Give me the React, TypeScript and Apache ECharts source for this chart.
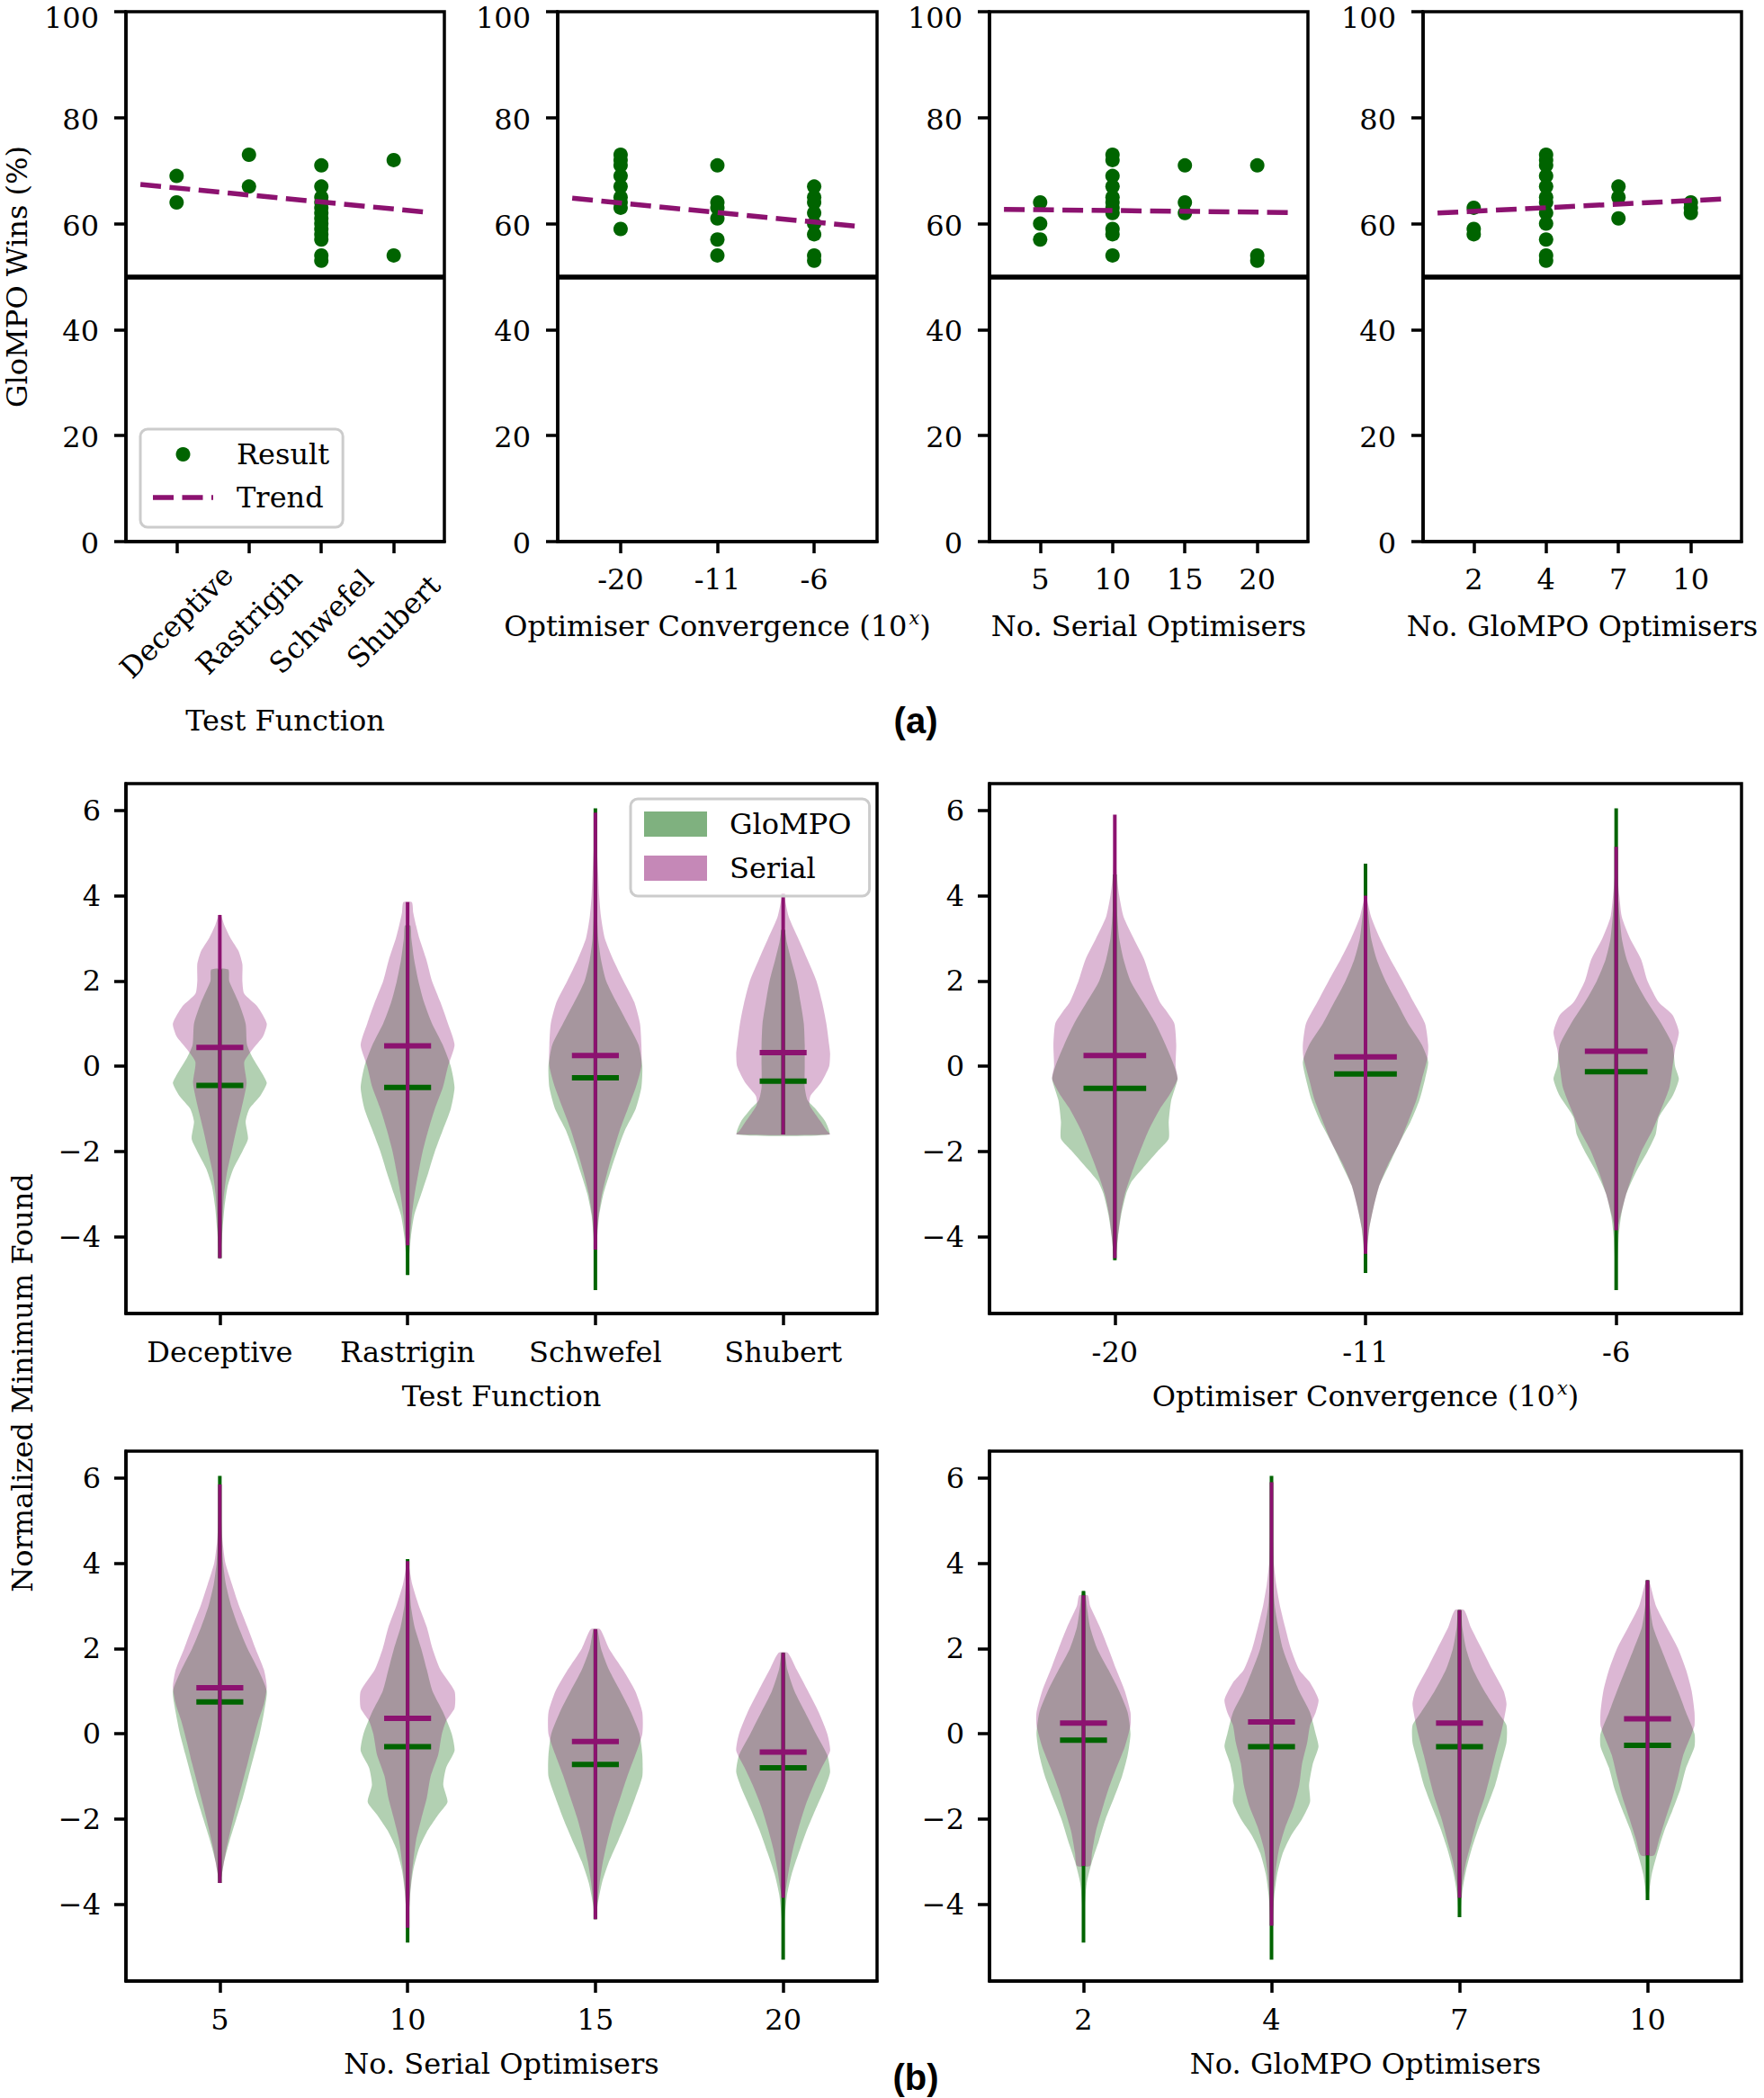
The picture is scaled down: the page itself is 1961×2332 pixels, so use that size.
import React, { useEffect, useRef } from "react";
import * as echarts from "echarts";

const GREEN = "#006400";
const PURPLE = "#8c1270";
const GREEN_BODY = "rgba(0,100,0,0.3)";
const PURPLE_BODY = "rgba(140,18,112,0.3)";
const GREEN_PATCH = "rgba(0,100,0,0.5)";
const PURPLE_PATCH = "rgba(140,18,112,0.5)";
const SERIF = "DejaVu Serif";

// ---------------- (a) GloMPO wins (%) ----------------
const fnCats = ["Deceptive", "Rastrigin", "Schwefel", "Shubert"];
const fnWins = [[69, 64], [73, 67], [71, 67, 65, 64, 63, 62, 61, 60, 59, 58, 57, 54, 53], [72, 54]];
const fnTrend = [67.4, 62.1];

const convCats = ["-20", "-11", "-6"];
const convWins = [[73, 72, 71, 69, 67, 65, 64, 63, 59], [71, 64, 63, 61, 57, 54], [67, 65, 64, 62, 60, 58, 54, 53]];
const convTrend = [64.8, 59.4];

const serialCats = ["5", "10", "15", "20"];
const serialWins = [[64, 60, 57], [73, 72, 69, 67, 65, 64, 63, 62, 59, 58, 54], [71, 64, 62], [71, 54, 53]];
const serialTrend = [62.7, 62.1];

const glompoCats = ["2", "4", "7", "10"];
const glompoWins = [[63, 59, 58], [73, 72, 71, 69, 67, 65, 64, 62, 60, 57, 54, 53], [67, 65, 61], [64, 63, 62]];
const glompoTrend = [62.0, 64.7];

const winTicks = [0, 20, 40, 60, 80, 100];
const evenLine = 50;

// ---------------- (b) violin profiles: [value, relative half-width] ----------------
const violinTicks = [-4, -2, 0, 2, 4, 6];

const fnGlo = [
  [[-4.5, 0.01], [-3.8, 0.06], [-3.3, 0.1], [-2.8, 0.17], [-2.4, 0.29], [-2.0, 0.48], [-1.7, 0.6], [-1.3, 0.55], [-1.0, 0.63], [-0.7, 0.86], [-0.4, 1.0], [-0.2, 0.92], [0.2, 0.7], [0.5, 0.58], [1.0, 0.55], [1.5, 0.4], [2.0, 0.2], [2.27, 0.18]],
  [[-4.9, 0.01], [-4.5, 0.03], [-4.0, 0.07], [-3.5, 0.14], [-3.0, 0.29], [-2.5, 0.44], [-2.0, 0.58], [-1.5, 0.75], [-1.0, 0.92], [-0.5, 1.0], [0, 0.92], [0.5, 0.75], [1.0, 0.52], [1.5, 0.35], [2.0, 0.23], [2.5, 0.14], [3.0, 0.08], [3.3, 0.06]],
  [[-5.25, 0.0], [-4.5, 0.02], [-4.0, 0.04], [-3.5, 0.08], [-3.0, 0.17], [-2.5, 0.31], [-2.0, 0.46], [-1.5, 0.63], [-1.0, 0.86], [-0.5, 0.98], [0, 1.0], [0.5, 0.92], [1.0, 0.69], [1.5, 0.45], [2.0, 0.23], [2.5, 0.12], [3.0, 0.06], [4.0, 0.02], [5.0, 0.01], [6.05, 0.0]],
  [[-1.6, 0.98], [-1.3, 0.9], [-1.0, 0.69], [-0.8, 0.52], [-0.5, 0.46], [0, 0.46], [0.5, 0.46], [1.0, 0.44], [1.5, 0.37], [2.0, 0.29], [2.5, 0.17], [2.9, 0.08], [3.2, 0.03]],
];
const fnSer = [
  [[-4.5, 0.01], [-4.0, 0.04], [-3.5, 0.06], [-3.0, 0.09], [-2.5, 0.15], [-2.0, 0.25], [-1.5, 0.35], [-1.0, 0.46], [-0.4, 0.57], [0.1, 0.52], [0.4, 0.7], [0.7, 0.92], [1.0, 1.0], [1.4, 0.8], [1.7, 0.52], [2.0, 0.48], [2.4, 0.48], [2.7, 0.4], [3.0, 0.23], [3.3, 0.1], [3.55, 0.02]],
  [[-4.2, 0.01], [-4.0, 0.05], [-3.5, 0.09], [-3.0, 0.15], [-2.5, 0.23], [-2.0, 0.32], [-1.5, 0.44], [-1.0, 0.58], [-0.5, 0.75], [0, 0.86], [0.5, 1.0], [1.0, 0.86], [1.5, 0.7], [2.0, 0.52], [2.5, 0.4], [3.0, 0.25], [3.3, 0.18], [3.6, 0.12], [3.85, 0.09]],
  [[-4.3, 0.01], [-4.0, 0.03], [-3.5, 0.07], [-3.0, 0.14], [-2.5, 0.25], [-2.0, 0.38], [-1.5, 0.52], [-1.0, 0.69], [-0.5, 0.86], [0, 0.98], [0.5, 0.98], [1.0, 0.95], [1.5, 0.83], [2.0, 0.6], [2.5, 0.38], [3.0, 0.2], [3.5, 0.12], [4.0, 0.08], [4.5, 0.06], [5.2, 0.03], [5.95, 0.01]],
  [[-1.6, 1.0], [-1.5, 0.92], [-1.3, 0.8], [-1.1, 0.67], [-0.9, 0.56], [-0.7, 0.58], [-0.4, 0.8], [0, 0.98], [0.3, 1.0], [0.5, 0.98], [1.0, 0.92], [1.5, 0.83], [2.0, 0.71], [2.5, 0.52], [3.0, 0.32], [3.5, 0.12], [4.05, 0.01]],
];
const fnGloMed = [-0.45, -0.5, -0.27, -0.35];
const fnSerMed = [0.44, 0.48, 0.25, 0.32];

const convGlo = [
  [[-4.55, 0.01], [-4.0, 0.05], [-3.5, 0.1], [-3.0, 0.18], [-2.7, 0.27], [-2.3, 0.5], [-2.0, 0.68], [-1.7, 0.86], [-1.3, 0.86], [-0.8, 0.9], [-0.3, 1.0], [0, 0.95], [0.5, 0.81], [1.0, 0.65], [1.5, 0.45], [2.0, 0.25], [2.5, 0.14], [3.0, 0.07], [3.5, 0.04], [4.0, 0.02], [4.5, 0.01]],
  [[-4.85, 0.0], [-4.3, 0.03], [-3.8, 0.06], [-3.3, 0.13], [-2.8, 0.22], [-2.3, 0.38], [-1.8, 0.54], [-1.3, 0.72], [-0.8, 0.86], [-0.3, 0.95], [0.1, 1.0], [0.5, 0.9], [1.0, 0.68], [1.5, 0.5], [2.0, 0.32], [2.5, 0.18], [3.0, 0.09], [3.5, 0.05], [4.0, 0.02], [4.75, 0.0]],
  [[-5.25, 0.0], [-4.0, 0.04], [-3.5, 0.08], [-3.0, 0.16], [-2.5, 0.31], [-2.0, 0.5], [-1.6, 0.63], [-1.2, 0.68], [-0.7, 0.9], [-0.3, 1.0], [0, 0.94], [0.5, 0.9], [1.0, 0.72], [1.5, 0.5], [2.0, 0.31], [2.5, 0.17], [3.0, 0.09], [4.0, 0.03], [5.0, 0.01], [6.05, 0.0]],
];
const convSer = [
  [[-4.5, 0.01], [-4.0, 0.05], [-3.5, 0.09], [-3.0, 0.16], [-2.5, 0.27], [-2.0, 0.4], [-1.5, 0.54], [-1.0, 0.72], [-0.7, 0.86], [-0.3, 1.0], [0, 0.97], [0.5, 0.98], [1.0, 0.95], [1.3, 0.82], [1.5, 0.72], [2.0, 0.58], [2.5, 0.47], [3.0, 0.3], [3.5, 0.14], [4.0, 0.07], [4.5, 0.03], [5.2, 0.01], [5.9, 0.0]],
  [[-4.4, 0.01], [-3.8, 0.06], [-3.3, 0.13], [-2.8, 0.22], [-2.3, 0.36], [-1.8, 0.54], [-1.3, 0.68], [-0.8, 0.81], [-0.3, 0.9], [0.2, 0.99], [0.5, 1.0], [1.0, 0.95], [1.5, 0.77], [2.0, 0.59], [2.5, 0.4], [3.0, 0.23], [3.5, 0.09], [4.0, 0.01]],
  [[-3.85, 0.01], [-3.5, 0.07], [-3.0, 0.16], [-2.5, 0.27], [-2.0, 0.4], [-1.5, 0.58], [-1.0, 0.72], [-0.5, 0.85], [0, 0.9], [0.4, 0.94], [0.8, 1.0], [1.2, 0.9], [1.5, 0.68], [2.0, 0.5], [2.5, 0.4], [3.0, 0.22], [3.5, 0.09], [4.0, 0.05], [4.5, 0.02], [5.15, 0.0]],
];
const convGloMed = [-0.52, -0.18, -0.13];
const convSerMed = [0.25, 0.22, 0.35];

const serialGlo = [
  [[-3.5, 0.01], [-3.0, 0.09], [-2.5, 0.21], [-2.0, 0.35], [-1.5, 0.49], [-1.0, 0.61], [-0.5, 0.73], [0, 0.85], [0.5, 0.94], [1.0, 1.0], [1.5, 0.82], [2.0, 0.59], [2.5, 0.4], [3.0, 0.24], [3.5, 0.13], [4.0, 0.07], [5.0, 0.02], [6.05, 0.0]],
  [[-4.9, 0.0], [-4.2, 0.03], [-3.7, 0.06], [-3.2, 0.12], [-2.7, 0.24], [-2.3, 0.41], [-1.9, 0.65], [-1.6, 0.85], [-1.2, 0.76], [-0.8, 0.82], [-0.4, 1.0], [0, 0.94], [0.5, 0.76], [1.0, 0.53], [1.5, 0.41], [2.0, 0.29], [2.5, 0.15], [3.0, 0.07], [3.5, 0.04], [4.1, 0.0]],
  [[-4.35, 0.01], [-4.0, 0.05], [-3.5, 0.14], [-3.0, 0.29], [-2.5, 0.49], [-2.0, 0.68], [-1.5, 0.85], [-1.0, 1.0], [-0.5, 1.0], [0, 0.94], [0.5, 0.76], [1.0, 0.53], [1.5, 0.29], [2.0, 0.12], [2.45, 0.04]],
  [[-5.3, 0.0], [-4.5, 0.02], [-3.8, 0.08], [-3.3, 0.18], [-2.8, 0.33], [-2.3, 0.49], [-1.8, 0.68], [-1.3, 0.88], [-0.9, 1.0], [-0.5, 0.94], [0, 0.7], [0.5, 0.47], [1.0, 0.24], [1.5, 0.09], [1.9, 0.03]],
];
const serialSer = [
  [[-3.5, 0.01], [-3.2, 0.06], [-2.7, 0.14], [-2.2, 0.24], [-1.7, 0.35], [-1.2, 0.47], [-0.7, 0.59], [-0.2, 0.7], [0.3, 0.82], [0.7, 0.94], [1.1, 1.0], [1.5, 0.94], [2.0, 0.76], [2.5, 0.59], [3.0, 0.41], [3.5, 0.26], [4.0, 0.12], [4.5, 0.06], [5.0, 0.03], [5.85, 0.0]],
  [[-4.55, 0.01], [-4.0, 0.04], [-3.5, 0.07], [-3.0, 0.12], [-2.5, 0.18], [-2.0, 0.29], [-1.5, 0.41], [-1.0, 0.49], [-0.5, 0.65], [0, 0.73], [0.3, 0.82], [0.6, 1.0], [1.0, 1.0], [1.5, 0.7], [2.0, 0.53], [2.5, 0.41], [3.0, 0.24], [3.5, 0.1], [4.05, 0.01]],
  [[-4.35, 0.01], [-4.0, 0.04], [-3.5, 0.09], [-3.0, 0.16], [-2.5, 0.26], [-2.0, 0.38], [-1.5, 0.53], [-1.0, 0.68], [-0.5, 0.85], [0, 1.0], [0.5, 1.0], [1.0, 0.85], [1.5, 0.59], [2.0, 0.29], [2.45, 0.1]],
  [[-3.85, 0.01], [-3.7, 0.05], [-3.2, 0.12], [-2.7, 0.21], [-2.2, 0.33], [-1.7, 0.47], [-1.2, 0.65], [-0.8, 0.82], [-0.4, 1.0], [0, 0.94], [0.5, 0.76], [1.0, 0.53], [1.5, 0.29], [1.9, 0.1]],
];
const serialGloMed = [0.75, -0.3, -0.72, -0.8];
const serialSerMed = [1.08, 0.36, -0.18, -0.43];

const glompoGlo = [
  [[-4.9, 0.0], [-4.0, 0.03], [-3.5, 0.07], [-3.0, 0.18], [-2.5, 0.33], [-2.0, 0.47], [-1.5, 0.65], [-1.0, 0.82], [-0.5, 0.94], [0, 1.0], [0.5, 0.94], [1.0, 0.76], [1.5, 0.53], [2.0, 0.29], [2.5, 0.14], [3.0, 0.07], [3.35, 0.03]],
  [[-5.3, 0.0], [-4.5, 0.02], [-3.8, 0.06], [-3.3, 0.12], [-2.8, 0.24], [-2.4, 0.41], [-2.0, 0.65], [-1.6, 0.82], [-1.2, 0.8], [-0.7, 0.88], [-0.3, 1.0], [0, 0.94], [0.5, 0.82], [1.0, 0.59], [2.0, 0.24], [3.0, 0.07], [4.0, 0.02], [6.05, 0.0]],
  [[-4.3, 0.01], [-3.7, 0.06], [-3.2, 0.14], [-2.7, 0.26], [-2.2, 0.41], [-1.7, 0.59], [-1.2, 0.76], [-0.7, 0.88], [-0.2, 1.0], [0.2, 1.0], [0.5, 0.82], [1.0, 0.53], [1.5, 0.29], [2.0, 0.14], [2.5, 0.06], [2.9, 0.03]],
  [[-3.9, 0.01], [-3.3, 0.09], [-2.8, 0.21], [-2.3, 0.35], [-1.8, 0.53], [-1.3, 0.7], [-0.8, 0.82], [-0.3, 1.0], [0, 1.0], [0.5, 0.82], [1.0, 0.65], [2.0, 0.29], [2.5, 0.12], [3.0, 0.05], [3.6, 0.02]],
];
const glompoSer = [
  [[-3.1, 0.14], [-2.8, 0.18], [-2.3, 0.26], [-1.8, 0.39], [-1.3, 0.53], [-0.8, 0.7], [-0.3, 0.88], [0.2, 1.0], [0.5, 1.0], [1.0, 0.88], [1.5, 0.7], [2.0, 0.53], [2.5, 0.35], [3.0, 0.14], [3.25, 0.09]],
  [[-4.5, 0.01], [-3.7, 0.05], [-3.2, 0.09], [-2.7, 0.16], [-2.2, 0.29], [-1.7, 0.47], [-1.2, 0.59], [-0.7, 0.65], [-0.2, 0.76], [0.2, 0.82], [0.5, 0.94], [0.8, 1.0], [1.2, 0.82], [1.5, 0.59], [2.0, 0.41], [2.5, 0.29], [3.0, 0.18], [3.5, 0.1], [4.0, 0.05], [4.5, 0.03], [5.9, 0.0]],
  [[-3.85, 0.01], [-3.5, 0.06], [-3.0, 0.14], [-2.5, 0.26], [-2.0, 0.38], [-1.5, 0.53], [-1.0, 0.65], [-0.5, 0.76], [0, 0.88], [0.3, 0.94], [0.7, 1.0], [1.0, 0.94], [1.5, 0.7], [2.0, 0.47], [2.5, 0.24], [2.9, 0.1]],
  [[-2.85, 0.14], [-2.5, 0.24], [-2.0, 0.38], [-1.5, 0.53], [-1.0, 0.65], [-0.5, 0.76], [0, 0.94], [0.2, 1.0], [0.5, 1.0], [1.0, 0.94], [1.5, 0.82], [2.0, 0.65], [2.5, 0.41], [3.0, 0.18], [3.6, 0.03]],
];
const glompoGloMed = [-0.15, -0.3, -0.3, -0.27];
const glompoSerMed = [0.25, 0.28, 0.25, 0.35];

const CONV_TITLE = "Optimiser Convergence (10{sup|x})";

const topPanels = [
  { cats: fnCats, wins: fnWins, trend: fnTrend, title: "Test Function", left: 140, width: 354, nameGap: 199, rotate: true },
  { cats: convCats, wins: convWins, trend: convTrend, title: CONV_TITLE, left: 620, width: 355, nameGap: 94, rotate: false },
  { cats: serialCats, wins: serialWins, trend: serialTrend, title: "No. Serial Optimisers", left: 1100, width: 354, nameGap: 94, rotate: false },
  { cats: glompoCats, wins: glompoWins, trend: glompoTrend, title: "No. GloMPO Optimisers", left: 1582, width: 354, nameGap: 94, rotate: false },
];

const bottomPanels = [
  { cats: fnCats, glo: fnGlo, ser: fnSer, gloMed: fnGloMed, serMed: fnSerMed, title: "Test Function", left: 140, top: 871, width: 835 },
  { cats: convCats, glo: convGlo, ser: convSer, gloMed: convGloMed, serMed: convSerMed, title: CONV_TITLE, left: 1100, top: 871, width: 836 },
  { cats: serialCats, glo: serialGlo, ser: serialSer, gloMed: serialGloMed, serMed: serialSerMed, title: "No. Serial Optimisers", left: 140, top: 1613, width: 835 },
  { cats: glompoCats, glo: glompoGlo, ser: glompoSer, gloMed: glompoGloMed, serMed: glompoSerMed, title: "No. GloMPO Optimisers", left: 1100, top: 1613, width: 836 },
];

const axisLineStyle = { color: "#000", width: 3.5 };
const labelBase = { color: "#000", fontFamily: SERIF, fontSize: 32 };
const nameStyle = {
  color: "#000",
  fontFamily: SERIF,
  fontSize: 32,
  verticalAlign: "middle",
  lineHeight: 40,
  rich: {
    sup: { color: "#000", fontFamily: SERIF, fontSize: 21, fontStyle: "italic", verticalAlign: "top", lineHeight: 22, padding: [0, 0, 0, 2] },
  },
};
const yNameStyle = { color: "#000", fontFamily: SERIF, fontSize: 32, verticalAlign: "middle", lineHeight: 30 };

// layer: 0 for GloMPO, 1 for Serial -> bodies below all lines, Serial above GloMPO
function violinSeries(name: string, gi: number, profiles: number[][][], medians: number[], lineColor: string, bodyColor: string, layer: number) {
  return {
    type: "custom",
    name,
    xAxisIndex: gi,
    yAxisIndex: gi,
    z: 2,
    data: medians.map((m, i) => [i, m]),
    itemStyle: { color: bodyColor },
    renderItem: (params: any, api: any) => {
      const i = api.value(0);
      const med = api.value(1);
      const prof = profiles[i];
      const band = api.size([1, 0])[0];
      const half = band * 0.25;
      const right = prof.map(([y, w]) => {
        const p = api.coord([i, y]);
        return [p[0] + w * half, p[1]];
      });
      const left = prof
        .slice()
        .reverse()
        .map(([y, w]) => {
          const p = api.coord([i, y]);
          return [p[0] - w * half, p[1]];
        });
      const top = api.coord([i, prof[prof.length - 1][0]]);
      const bot = api.coord([i, prof[0][0]]);
      const mp = api.coord([i, med]);
      const barHalf = band * 0.125;
      return {
        type: "group",
        children: [
          {
            type: "polygon",
            z2: layer,
            shape: { points: right.concat(left), smooth: 0.2 },
            style: { fill: bodyColor, stroke: "none" },
          },
          {
            type: "line",
            z2: 10 + layer,
            shape: { x1: top[0], y1: top[1], x2: bot[0], y2: bot[1] },
            style: { stroke: lineColor, lineWidth: 4 },
          },
          {
            type: "line",
            z2: 10 + layer,
            shape: { x1: mp[0] - barHalf, y1: mp[1], x2: mp[0] + barHalf, y2: mp[1] },
            style: { stroke: lineColor, lineWidth: 6 },
          },
        ],
      };
    },
  };
}

function buildOption() {
  const grid: any[] = [];
  const xAxis: any[] = [];
  const yAxis: any[] = [];
  const series: any[] = [];

  topPanels.forEach((p, i) => {
    grid.push({
      left: p.left,
      top: 13,
      width: p.width,
      height: 589,
      show: true,
      borderColor: "#000",
      borderWidth: 3.5,
      backgroundColor: "transparent",
      containLabel: false,
      outerBoundsMode: "none",
    });
    const n = p.cats.length;
    const pad = 0.05 * n;
    const ticks = p.cats.map((_, k) => k);
    xAxis.push({
      type: "value",
      gridIndex: i,
      min: -0.5 - pad,
      max: n - 0.5 + pad,
      axisLine: { show: true, onZero: false, lineStyle: axisLineStyle },
      axisTick: { show: true, length: 13, lineStyle: axisLineStyle, customValues: ticks },
      axisLabel: p.rotate
        ? { ...labelBase, customValues: ticks, formatter: (v: number) => p.cats[Math.round(v)] ?? "", rotate: 45, align: "center", verticalAlign: "middle", margin: 89 }
        : { ...labelBase, customValues: ticks, formatter: (v: number) => p.cats[Math.round(v)] ?? "", verticalAlign: "middle", margin: 42 },
      splitLine: { show: false },
      name: p.title,
      nameLocation: "middle",
      nameGap: p.nameGap,
      nameTextStyle: nameStyle,
    });
    const maxWin = winTicks[winTicks.length - 1];
    yAxis.push({
      type: "value",
      gridIndex: i,
      min: winTicks[0],
      max: maxWin,
      interval: 20,
      axisLine: { show: true, onZero: false, lineStyle: axisLineStyle },
      axisTick: { show: true, length: 13, lineStyle: axisLineStyle },
      axisLabel: {
        ...labelBase,
        margin: 30,
        formatter: (v: number) => (v === maxWin ? "{edge|" + v + "}" : "{n|" + v + "}"),
        rich: {
          edge: { color: "#000", fontFamily: SERIF, fontSize: 32, lineHeight: 26, padding: [14, 0, 0, 0] },
          n: { color: "#000", fontFamily: SERIF, fontSize: 32, lineHeight: 26, padding: [4, 0, 0, 0] },
        },
      },
      splitLine: { show: false },
      name: i === 0 ? "GloMPO Wins (%)" : "",
      nameLocation: "middle",
      nameGap: 121,
      nameTextStyle: yNameStyle,
    });
    series.push({
      type: "scatter",
      name: "Result",
      xAxisIndex: i,
      yAxisIndex: i,
      symbol: "circle",
      symbolSize: 16,
      itemStyle: { color: GREEN, opacity: 1 },
      data: p.wins.flatMap((vals, k) => vals.map((v) => [k, v])),
      z: 2,
      markLine: {
        silent: true,
        symbol: "none",
        label: { show: false },
        lineStyle: { color: "#000", width: 5.5, type: "solid" },
        data: [{ yAxis: evenLine }],
      },
    });
    series.push({
      type: "line",
      name: "Trend",
      xAxisIndex: i,
      yAxisIndex: i,
      symbol: "none",
      lineStyle: { color: PURPLE, width: 5.5, type: [23, 9.5] },
      itemStyle: { color: PURPLE },
      data: [
        [-0.5, p.trend[0]],
        [n - 0.5, p.trend[1]],
      ],
      z: 3,
    });
  });

  bottomPanels.forEach((p, j) => {
    const gi = 4 + j;
    grid.push({
      left: p.left,
      top: p.top,
      width: p.width,
      height: 589,
      show: true,
      borderColor: "#000",
      borderWidth: 3.5,
      backgroundColor: "transparent",
      containLabel: false,
      outerBoundsMode: "none",
    });
    xAxis.push({
      type: "category",
      gridIndex: gi,
      data: p.cats,
      boundaryGap: true,
      axisLine: { show: true, onZero: false, lineStyle: axisLineStyle },
      axisTick: { show: true, alignWithLabel: true, length: 13, lineStyle: axisLineStyle },
      axisLabel: { ...labelBase, interval: 0, verticalAlign: "middle", margin: 43 },
      splitLine: { show: false },
      name: p.title,
      nameLocation: "middle",
      nameGap: 92,
      nameTextStyle: nameStyle,
    });
    yAxis.push({
      type: "value",
      gridIndex: gi,
      min: -5.8,
      max: 6.63,
      axisLine: { show: true, onZero: false, lineStyle: axisLineStyle },
      axisTick: { show: true, length: 13, lineStyle: axisLineStyle, customValues: violinTicks },
      axisLabel: {
        ...labelBase,
        customValues: violinTicks,
        margin: 28,
        formatter: (v: number) => (v < 0 ? "\u2212" + Math.abs(v) : String(v)),
      },
      splitLine: { show: false },
    });
    series.push(violinSeries("GloMPO", gi, p.glo, p.gloMed, GREEN, GREEN_BODY, 0));
    series.push(violinSeries("Serial", gi, p.ser, p.serMed, PURPLE, PURPLE_BODY, 1));
  });

  const legendText = { color: "#000", fontFamily: SERIF, fontSize: 32, lineHeight: 38 };

  return {
    animation: false,
    backgroundColor: "#fff",
    textStyle: { fontFamily: SERIF },
    grid,
    xAxis,
    yAxis,
    series,
    legend: [
      {
        orient: "vertical",
        left: 156,
        top: 477,
        itemWidth: 67,
        itemHeight: 16,
        itemGap: 10,
        padding: [9, 15, 14, 14],
        borderColor: "#cccccc",
        borderWidth: 3,
        borderRadius: 8,
        backgroundColor: "rgba(255,255,255,0.8)",
        selectedMode: false,
        textStyle: { ...legendText, padding: [0, 0, 0, 21] },
        data: [
          { name: "Result", icon: "circle", itemStyle: { color: GREEN, borderWidth: 0 } },
          {
            name: "Trend",
            icon: "path://M0,0h23v5.5h-23zM32.5,0h23v5.5h-23zM65,0h2v5.5h-2z",
            itemStyle: { color: PURPLE, borderWidth: 0 },
            lineStyle: { width: 0 },
          },
        ],
      },
      {
        orient: "vertical",
        left: 701,
        top: 888,
        itemWidth: 70,
        itemHeight: 28,
        itemGap: 11,
        padding: [9, 20, 12, 15],
        borderColor: "#cccccc",
        borderWidth: 3,
        borderRadius: 8,
        backgroundColor: "rgba(255,255,255,0.8)",
        selectedMode: false,
        textStyle: { ...legendText, padding: [0, 0, 0, 20] },
        data: [
          { name: "GloMPO", icon: "rect", itemStyle: { color: GREEN_PATCH, borderWidth: 0 } },
          { name: "Serial", icon: "rect", itemStyle: { color: PURPLE_PATCH, borderWidth: 0 } },
        ],
      },
    ],
    graphic: [
      {
        type: "text",
        x: 25,
        y: 1537,
        rotation: Math.PI / 2,
        style: { text: "Normalized Minimum Found", fill: "#000", fontFamily: SERIF, fontSize: 32, align: "center", verticalAlign: "middle" },
      },
      {
        type: "text",
        x: 1018,
        y: 801,
        style: { text: "(a)", fill: "#000", fontFamily: "Liberation Sans", fontWeight: "bold", fontSize: 40, align: "center", verticalAlign: "middle" },
      },
      {
        type: "text",
        x: 1018,
        y: 2309,
        style: { text: "(b)", fill: "#000", fontFamily: "Liberation Sans", fontWeight: "bold", fontSize: 40, align: "center", verticalAlign: "middle" },
      },
    ],
  };
}

export default function App() {
  const ref = useRef<HTMLDivElement>(null);
  useEffect(() => {
    if (!ref.current) return;
    const chart = echarts.init(ref.current, undefined, { renderer: "svg" });
    chart.setOption(buildOption() as any);
    return () => chart.dispose();
  }, []);
  return <div ref={ref} style={{ position: "absolute", left: 0, top: 0, width: 1961, height: 2332, background: "#fff" }} />;
}
